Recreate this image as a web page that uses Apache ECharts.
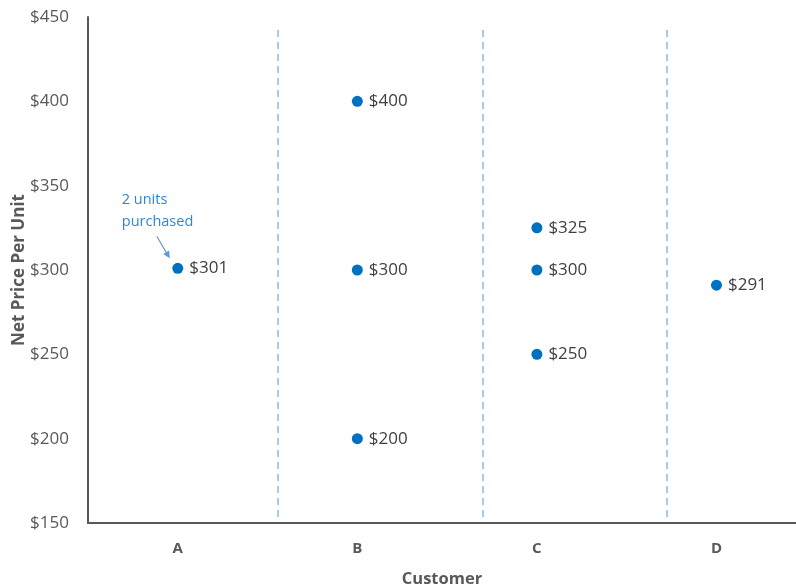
<!DOCTYPE html>
<html>
<head>
<meta charset="utf-8">
<script src="https://cdn.jsdelivr.net/npm/echarts@6/dist/echarts.min.js"></script>
<style>
  html, body { margin: 0; padding: 0; background: #fff; }
  #chart { width: 796px; height: 587px; }
</style>
</head>
<body>
<div id="chart"></div>
<script>
// Customer categories (positioned at 1..4 on the x value axis)
const customers = ['A', 'B', 'C', 'D'];
const customerPos = [1, 2, 3, 4];
// Each purchase: which customer (1-based) and its net price per unit
const pointCustomer = [1, 2, 2, 2, 3, 3, 3, 4];
const pointPrice = [301, 400, 300, 200, 325, 300, 250, 291];
// Dashed separators between customers (x position, lower and upper price bound)
const dividerX = [1.557, 2.699, 3.724];
const dividerSpan = [153.5, 445];
// Price axis ticks
const priceMin = 150, priceMax = 450, priceStep = 50;
// Note attached to customer A's point
const noteText = '2 units\npurchased';

const font = '"Open Sans", "Liberation Sans", sans-serif';
const chart = echarts.init(document.getElementById('chart'));

const points = pointCustomer.map((c, i) => [c, pointPrice[i]]);

chart.setOption({
  animation: false,
  grid: { left: 88, right: 0, top: 17, bottom: 64, containLabel: false, outerBoundsMode: 'none' },
  xAxis: {
    type: 'value', min: 0.5, max: 4.443,
    name: 'Customer', nameLocation: 'middle', nameGap: 48,
    nameTextStyle: { color: '#595959', fontSize: 16.5, fontWeight: 'bold', fontFamily: font },
    axisLine: { lineStyle: { color: '#595959', width: 2 } },
    axisTick: { show: false },
    splitLine: { show: false },
    axisLabel: {
      customValues: customerPos,
      color: '#595959', fontSize: 15, fontWeight: 'bold', fontFamily: font, margin: 18,
      formatter: v => customers[customerPos.indexOf(v)] || ''
    }
  },
  yAxis: {
    type: 'value', min: priceMin, max: priceMax, interval: priceStep,
    name: 'Net Price Per Unit', nameLocation: 'middle', nameGap: 60, nameMoveOverlap: false,
    nameTextStyle: { color: '#595959', fontSize: 17, fontWeight: 'bold', fontFamily: font },
    axisLine: { show: true, lineStyle: { color: '#595959', width: 2 } },
    axisTick: { show: false },
    splitLine: { show: false },
    axisLabel: { color: '#595959', fontSize: 17, fontFamily: font, margin: 19, formatter: v => '$' + v }
  },
  series: [
    {
      type: 'scatter',
      data: points,
      symbolSize: 11,
      itemStyle: { color: '#0070C0', opacity: 1 },
      label: {
        show: true, position: 'right', distance: 6,
        color: '#404040', fontSize: 17, fontFamily: font,
        formatter: p => '$' + p.value[1]
      },
      markLine: {
        silent: true,
        symbol: ['none', 'none'],
        label: { show: false },
        lineStyle: { color: '#8DB9E4', type: [7, 5], width: 1.5, opacity: 1 },
        data: dividerX.map(x => [{ coord: [x, dividerSpan[0]] }, { coord: [x, dividerSpan[1]] }])
      }
    }
  ]
});

// Annotation: text and arrow pointing to customer A's point
const aPix = chart.convertToPixel({ gridIndex: 0 }, points[0]);
const ax = aPix[0], ay = aPix[1];
chart.setOption({
  graphic: [
    {
      type: 'text', left: ax - 56, top: ay - 79,
      style: { text: noteText, fill: '#2E86D4', font: '14.5px ' + font, lineHeight: 22 }
    },
    {
      type: 'line',
      shape: { x1: ax - 21, y1: ay - 32, x2: ax - 11, y2: ay - 15 },
      style: { stroke: '#5B9BD5', lineWidth: 1.2 }
    },
    {
      type: 'polygon',
      shape: { points: [[ax - 8, ay - 10], [ax - 14.6, ay - 14.2], [ax - 8.6, ay - 17.8]] },
      style: { fill: '#5B9BD5' }
    }
  ]
});
</script>
</body>
</html>
